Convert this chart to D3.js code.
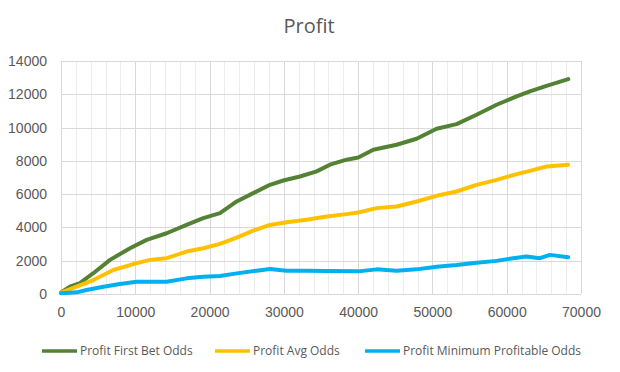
<!DOCTYPE html>
<html>
<head>
<meta charset="utf-8">
<script src="https://cdn.jsdelivr.net/npm/d3@7"></script>
<style>
  body { margin: 0; background: #fff; }
  svg { display: block; font-family: "Open Sans", "Noto Sans", sans-serif; }
</style>
</head>
<body>
<svg id="chart" width="620" height="372"></svg>
<script>
// values
const seriesNames = ['Profit First Bet Odds', 'Profit Avg Odds', 'Profit Minimum Profitable Odds']
const seriesColors = ['#548235', '#ffc000', '#00b0f0']

const firstBetX = [0, 1200, 2560, 4350, 6600, 9290, 11530, 14220, 16900, 19150, 21400, 23650, 25880, 28130, 29920, 32170, 34410, 36200, 38450, 40020, 42040, 45180, 47870, 50560, 53250, 55940, 58640, 61330, 63120, 65360, 68280]
const firstBetY = [100, 440, 660, 1250, 2050, 2750, 3250, 3650, 4150, 4560, 4860, 5560, 6060, 6560, 6820, 7060, 7370, 7770, 8070, 8200, 8670, 8970, 9330, 9930, 10210, 10770, 11370, 11870, 12170, 12510, 12910]

const avgX = [0, 2110, 4350, 7040, 9730, 11980, 14220, 16900, 19150, 21400, 23650, 25880, 28130, 30370, 33060, 35750, 38450, 40020, 42490, 45180, 47870, 50560, 53250, 55940, 58640, 61330, 63120, 65360, 68280]
const avgY = [80, 440, 840, 1440, 1800, 2050, 2150, 2550, 2750, 3010, 3390, 3810, 4150, 4310, 4460, 4660, 4800, 4900, 5160, 5260, 5560, 5900, 6160, 6560, 6860, 7200, 7400, 7660, 7770]

const minX = [0, 2110, 3450, 5700, 7940, 10190, 11980, 14220, 16900, 19150, 21400, 23650, 26340, 28130, 30370, 33060, 35750, 40020, 42490, 45180, 47870, 50560, 53250, 55940, 58640, 60880, 62670, 64460, 65810, 68280]
const minY = [50, 100, 240, 440, 600, 740, 740, 740, 940, 1040, 1080, 1240, 1400, 1500, 1400, 1400, 1380, 1360, 1480, 1400, 1480, 1640, 1740, 1880, 1990, 2150, 2250, 2150, 2350, 2210]

const xTicks = [0, 10000, 20000, 30000, 40000, 50000, 60000, 70000]
const yTicks = [0, 2000, 4000, 6000, 8000, 10000, 12000, 14000]

const series = [
  { name: seriesNames[0], color: seriesColors[0], xs: firstBetX, ys: firstBetY },
  { name: seriesNames[1], color: seriesColors[1], xs: avgX, ys: avgY },
  { name: seriesNames[2], color: seriesColors[2], xs: minX, ys: minY }
]

const margin = { top: 61, right: 39, bottom: 78, left: 61 }
const width = 620
const height = 372
const textColor = '#595959'

const svg = d3.select('#chart')
const g = svg.append('g').attr('transform', `translate(${margin.left},${margin.top})`)
const w = width - margin.left - margin.right
const h = height - margin.top - margin.bottom

const x = d3.scaleLinear().domain([0, 70000]).range([0, w])
const y = d3.scaleLinear().domain([0, 14000]).range([h, 0])

// minor vertical grid every 2000
g.append('g')
  .selectAll('line')
  .data(d3.range(2000, 70000, 2000).filter((v) => v % 10000 !== 0))
  .join('line')
  .attr('x1', (d) => Math.round(x(d)) + 0.5)
  .attr('x2', (d) => Math.round(x(d)) + 0.5)
  .attr('y1', 0)
  .attr('y2', h)
  .attr('stroke', '#ececec')

// major grid
g.append('g')
  .selectAll('line')
  .data(xTicks)
  .join('line')
  .attr('x1', (d) => Math.round(x(d)) + 0.5)
  .attr('x2', (d) => Math.round(x(d)) + 0.5)
  .attr('y1', 0)
  .attr('y2', h)
  .attr('stroke', '#d9d9d9')

g.append('g')
  .selectAll('line')
  .data(yTicks)
  .join('line')
  .attr('x1', 0)
  .attr('x2', w)
  .attr('y1', (d) => Math.round(y(d)) + 0.5)
  .attr('y2', (d) => Math.round(y(d)) + 0.5)
  .attr('stroke', '#d9d9d9')

// axes
const xAxis = g.append('g')
  .attr('transform', `translate(0,${h})`)
  .call(d3.axisBottom(x).tickValues(xTicks).tickSize(0).tickPadding(13).tickFormat(d3.format('d')))
xAxis.select('.domain').remove()
xAxis.selectAll('text').attr('fill', textColor).style('font-size', '14px').style('font-family', null)

const yAxis = g.append('g')
  .call(d3.axisLeft(y).tickValues(yTicks).tickSize(0).tickPadding(14).tickFormat(d3.format('d')))
yAxis.select('.domain').remove()
yAxis.selectAll('text').attr('fill', textColor).style('font-size', '14px').style('font-family', null)

// lines
const line = d3.line()
  .x((d) => x(d[0]))
  .y((d) => y(d[1]))
  .curve(d3.curveLinear)

g.append('g')
  .selectAll('path')
  .data(series)
  .join('path')
  .attr('fill', 'none')
  .attr('stroke', (d) => d.color)
  .attr('stroke-width', 4)
  .attr('stroke-linejoin', 'round')
  .attr('stroke-linecap', 'round')
  .attr('d', (d) => line(d.xs.map((v, i) => [v, d.ys[i]])))

// title
svg.append('text')
  .attr('x', 309)
  .attr('y', 33)
  .attr('text-anchor', 'middle')
  .attr('fill', textColor)
  .style('font-size', '20px')
  .text('Profit')

// legend
const legendX = [42, 215, 365]
const legend = svg.append('g')
  .selectAll('g')
  .data(series)
  .join('g')
  .attr('transform', (d, i) => `translate(${legendX[i]},351)`)

legend.append('line')
  .attr('x1', 0)
  .attr('x2', 35)
  .attr('stroke', (d) => d.color)
  .attr('stroke-width', 3.5)

legend.append('text')
  .attr('x', 38)
  .attr('dy', '0.35em')
  .attr('fill', textColor)
  .style('font-size', '12px')
  .text((d) => d.name)
</script>
</body>
</html>
